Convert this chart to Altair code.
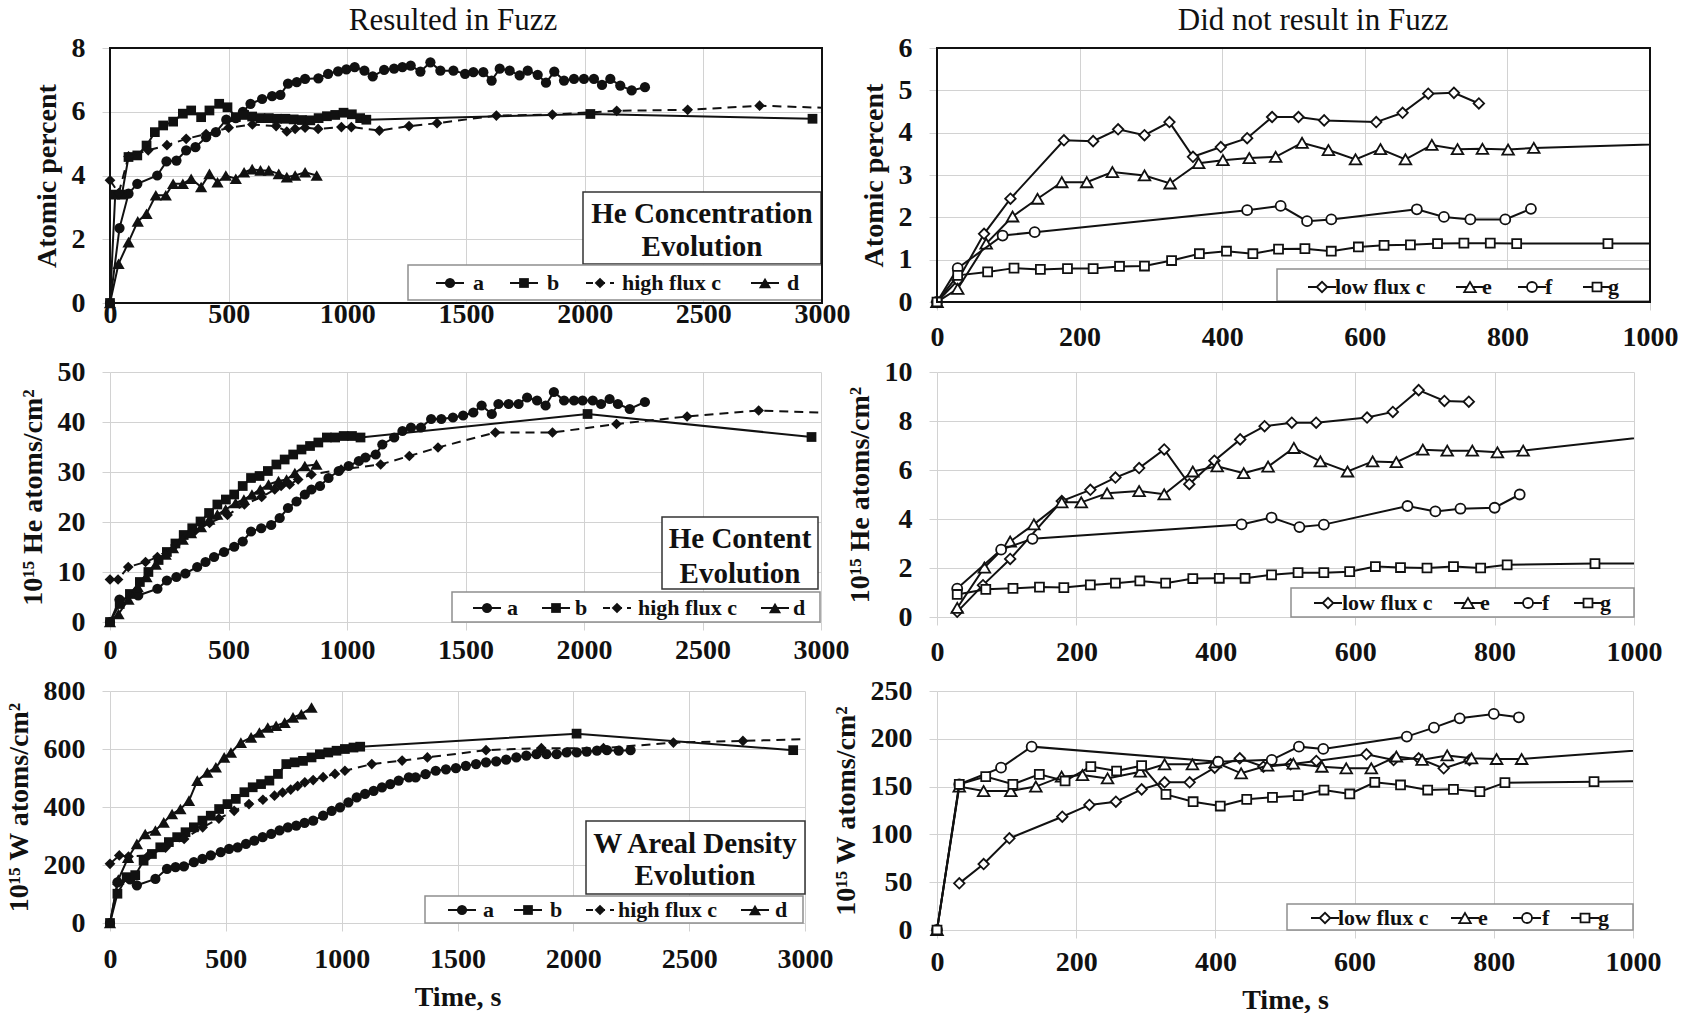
import altair as alt
import pandas as pd

SERIF = "Liberation Serif"
INK = "#111111"
GRID = "#d2d2d2"
ONE = pd.DataFrame({"k": [0]})

# ---------------- Resulted in Fuzz : He concentration (atomic percent) ----------------
conc_a_t = [0, 40, 78, 115, 199, 238, 280, 321, 360, 405, 446, 490, 530, 560, 592, 641, 683, 718, 750, 787,
            822, 878, 919, 961, 996, 1031, 1072, 1107, 1155, 1197, 1232, 1267, 1308, 1350, 1392, 1447, 1496,
            1531, 1573, 1608, 1642, 1684, 1726, 1760, 1802, 1837, 1872, 1913, 1955, 1997, 2039, 2073, 2108,
            2150, 2198, 2254]
conc_a_v = [0, 2.35, 3.43, 3.74, 4.0, 4.44, 4.47, 4.79, 4.89, 5.2, 5.36, 5.75, 5.8, 6.0, 6.25, 6.4, 6.49, 6.53,
            6.88, 6.93, 7.03, 7.05, 7.19, 7.27, 7.33, 7.4, 7.29, 7.11, 7.31, 7.35, 7.4, 7.45, 7.26, 7.55, 7.29,
            7.29, 7.19, 7.24, 7.24, 6.98, 7.35, 7.29, 7.14, 7.29, 7.16, 6.91, 7.26, 6.98, 7.03, 7.03, 7.03, 6.84,
            7.03, 6.82, 6.67, 6.77]
conc_b_t = [0, 22, 50, 78, 115, 154, 189, 224, 266, 307, 342, 384, 419, 460, 495, 530, 565, 599, 634, 669, 704,
            739, 774, 809, 844, 879, 914, 949, 984, 1019, 1054, 1080, 2024, 2960]
conc_b_v = [0, 3.4, 3.4, 4.58, 4.63, 4.94, 5.36, 5.57, 5.69, 5.94, 6.04, 5.83, 6.04, 6.25, 6.14, 5.83, 5.9, 5.85,
            5.8, 5.8, 5.78, 5.78, 5.76, 5.74, 5.73, 5.8, 5.86, 5.9, 5.97, 5.92, 5.8, 5.75, 5.93, 5.78]
conc_c_t = [0, 37, 78, 161, 240, 321, 405, 500, 600, 700, 745, 780, 822, 877, 975, 1017, 1135, 1260, 1378, 1628,
            1864, 2135, 2434, 2737, 3100]
conc_c_v = [3.85, 3.45, 4.6, 4.79, 4.95, 5.15, 5.3, 5.5, 5.6, 5.55, 5.38, 5.46, 5.5, 5.46, 5.52, 5.52, 5.41, 5.55,
            5.64, 5.88, 5.91, 6.03, 6.06, 6.19, 6.1]
conc_d_t = [0, 36, 78, 117, 154, 193, 235, 266, 307, 342, 384, 419, 453, 488, 530, 565, 599, 634, 669, 711, 745,
            780, 822, 871]
conc_d_v = [0, 1.23, 1.91, 2.56, 2.8, 3.38, 3.38, 3.74, 3.74, 3.9, 3.64, 4.05, 3.79, 4.0, 3.9, 4.1, 4.2, 4.16,
            4.16, 4.05, 3.95, 4.0, 4.1, 4.0]

# ---------------- Resulted in Fuzz : He content (1e15 atoms/cm2) ----------------
cont_a_t = [0, 40, 119, 200, 240, 280, 318, 368, 403, 439, 481, 524, 560, 595, 638, 680, 716, 751, 787, 822, 850,
            886, 922, 965, 1007, 1050, 1078, 1121, 1149, 1199, 1234, 1270, 1312, 1355, 1398, 1447, 1490, 1533,
            1568, 1611, 1639, 1682, 1724, 1760, 1802, 1838, 1873, 1916, 1958, 1994, 2037, 2072, 2108, 2143, 2193,
            2257]
cont_a_v = [0, 4.5, 5.3, 6.65, 8.3, 9.0, 9.7, 11.0, 12.0, 13.0, 14.0, 15.05, 16.1, 18.1, 18.75, 19.4, 20.8, 22.8,
            24.1, 25.5, 26.5, 27.2, 28.8, 30.2, 31.2, 32.2, 32.9, 33.5, 35.5, 36.9, 38.2, 38.9, 38.9, 40.6, 40.6,
            40.9, 41.3, 41.9, 43.3, 41.6, 43.6, 43.6, 43.6, 44.9, 44.3, 43.3, 46.0, 44.3, 44.3, 44.3, 44.3, 43.6,
            44.6, 43.6, 42.6, 44.0]
cont_b_t = [0, 41, 84, 126, 162, 205, 240, 276, 311, 347, 382, 418, 453, 489, 524, 560, 595, 631, 666, 702, 737,
            773, 808, 844, 879, 915, 950, 986, 1021, 1057, 2015, 2960]
cont_b_v = [0, 3.6, 5.6, 8.0, 10.0, 12.4, 14.0, 15.7, 17.4, 18.75, 20.1, 21.8, 23.5, 24.5, 25.5, 27.2, 28.8, 29.2,
            30.2, 31.5, 32.5, 33.5, 34.5, 35.2, 35.9, 36.9, 36.9, 37.2, 37.2, 36.9, 41.6, 37.0]
cont_c_t = [0, 34, 77, 150, 200, 276, 354, 420, 496, 567, 640, 695, 722, 758, 794, 850, 975, 1142, 1263, 1384,
            1626, 1867, 2137, 2435, 2737, 3100]
cont_c_v = [8.5, 8.5, 11.0, 12.0, 13.0, 15.4, 18.0, 19.8, 21.4, 23.5, 25.0, 26.5, 27.2, 27.5, 28.5, 29.5, 30.5,
            31.5, 33.2, 34.9, 37.9, 37.9, 39.6, 41.1, 42.3, 41.7]
cont_d_t = [0, 36, 78, 117, 154, 193, 235, 266, 307, 342, 384, 419, 453, 488, 530, 565, 599, 634, 669, 711, 745,
            780, 822, 871]
cont_d_v = [0, 1.6, 4.5, 7.0, 9.0, 11.5, 13.5, 14.8, 16.5, 17.8, 19.0, 20.5, 21.5, 22.5, 23.8, 24.5, 25.5, 26.5,
            27.5, 28.2, 28.5, 29.8, 31.2, 31.5]

# ---------------- Resulted in Fuzz : W areal density (1e15 atoms/cm2) ----------------
wad_a_t = [0, 32, 87, 116, 196, 246, 283, 319, 362, 399, 435, 478, 514, 551, 587, 623, 659, 696, 732, 768, 804,
           840, 877, 920, 957, 993, 1029, 1065, 1101, 1138, 1174, 1210, 1246, 1290, 1319, 1362, 1406, 1450, 1493,
           1536, 1580, 1623, 1667, 1710, 1754, 1797, 1841, 1884, 1928, 1971, 2015, 2058, 2102, 2145, 2196, 2247]
wad_a_v = [0, 140, 150, 130, 152, 187, 193, 195, 210, 221, 233, 244, 256, 261, 273, 284, 296, 307, 319, 330, 336,
           345, 353, 370, 387, 399, 416, 433, 445, 456, 468, 479, 491, 502, 502, 513, 525, 530, 534, 542, 548, 554,
           557, 563, 571, 577, 582, 582, 582, 588, 588, 591, 594, 596, 594, 596]
wad_b_t = [0, 32, 72, 109, 145, 181, 217, 254, 290, 326, 362, 399, 435, 471, 507, 543, 580, 616, 652, 688, 725,
           761, 797, 833, 870, 906, 942, 978, 1014, 1051, 1080, 2014, 2949]
wad_b_v = [0, 101, 158, 165, 215, 238, 261, 279, 296, 313, 330, 353, 370, 393, 410, 428, 451, 468, 479, 491, 514,
           548, 554, 559, 571, 582, 588, 594, 600, 605, 608, 653, 596]
wad_c_t = [0, 40, 80, 167, 240, 320, 400, 470, 536, 600, 660, 710, 745, 780, 810, 841, 877, 920, 971, 1014, 1130,
           1261, 1370, 1623, 1862, 2130, 2432, 2732, 3100]
wad_c_v = [204, 233, 229, 233, 260, 290, 330, 360, 387, 410, 425, 439, 450, 460, 472, 485, 493, 503, 514, 525,
           548, 560, 571, 596, 603, 603, 622, 628, 636]
wad_d_t = [0, 36, 78, 116, 152, 196, 232, 268, 304, 341, 377, 420, 457, 493, 522, 565, 609, 645, 681, 717, 754,
           790, 826, 870]
wad_d_v = [0, 150, 225, 273, 307, 319, 347, 376, 393, 422, 491, 519, 537, 571, 588, 622, 640, 657, 674, 680, 691,
           709, 720, 743]

# ---------------- Did not result in Fuzz : He concentration ----------------
nconc_c_t = [0, 29, 66, 103, 178, 219, 254, 291, 326, 359, 398, 435, 470, 507, 543, 616, 653, 689, 725, 760]
nconc_c_v = [0, 0.51, 1.61, 2.44, 3.82, 3.8, 4.08, 3.94, 4.25, 3.43, 3.66, 3.87, 4.37, 4.37, 4.29, 4.25, 4.47,
             4.92, 4.94, 4.69]
nconc_e_t = [0, 29, 69, 106, 141, 175, 210, 246, 291, 327, 367, 401, 438, 475, 512, 549, 587, 622, 657, 694, 730,
             765, 801, 837, 1200]
nconc_e_v = [0, 0.31, 1.38, 2.02, 2.44, 2.83, 2.83, 3.07, 2.99, 2.8, 3.28, 3.35, 3.4, 3.43, 3.76, 3.59, 3.37, 3.61,
             3.37, 3.71, 3.61, 3.62, 3.6, 3.64, 3.82]
nconc_f_t = [0, 29, 92, 137, 435, 482, 519, 553, 673, 711, 748, 797, 833]
nconc_f_v = [0, 0.8, 1.57, 1.65, 2.17, 2.27, 1.91, 1.95, 2.19, 2.01, 1.95, 1.95, 2.2]
nconc_g_t = [0, 29, 71, 108, 145, 183, 219, 256, 291, 329, 368, 406, 443, 479, 516, 553, 591, 627, 664, 702, 739,
             776, 813, 941, 1100]
nconc_g_v = [0, 0.63, 0.71, 0.8, 0.77, 0.79, 0.79, 0.84, 0.85, 0.98, 1.14, 1.2, 1.14, 1.25, 1.26, 1.2, 1.3, 1.34,
             1.35, 1.38, 1.39, 1.39, 1.38, 1.38, 1.38]

# ---------------- Did not result in Fuzz : He content ----------------
ncont_c_t = [29, 66, 105, 179, 220, 256, 290, 326, 362, 398, 435, 470, 509, 544, 617, 654, 691, 728, 763]
ncont_c_v = [0.21, 1.3, 2.37, 4.73, 5.19, 5.69, 6.08, 6.84, 5.42, 6.38, 7.25, 7.79, 7.93, 7.93, 8.14, 8.37, 9.26,
             8.82, 8.79]
ncont_e_t = [29, 68, 105, 139, 179, 207, 244, 290, 326, 367, 402, 440, 475, 512, 550, 589, 625, 659, 697, 732, 768,
             804, 841, 1100]
ncont_e_v = [0.37, 2.02, 3.08, 3.78, 4.68, 4.68, 5.05, 5.14, 5.01, 5.94, 6.15, 5.87, 6.14, 6.90, 6.35, 5.94, 6.35,
             6.32, 6.83, 6.79, 6.79, 6.72, 6.79, 7.62]
ncont_f_t = [29, 92, 137, 437, 480, 520, 555, 675, 715, 751, 800, 836]
ncont_f_v = [1.16, 2.75, 3.19, 3.78, 4.06, 3.67, 3.77, 4.53, 4.31, 4.42, 4.46, 5.0]
ncont_g_t = [29, 70, 109, 147, 182, 220, 256, 291, 328, 367, 405, 442, 480, 518, 555, 592, 629, 665, 703, 741, 780,
             818, 944, 1100]
ncont_g_v = [0.92, 1.13, 1.17, 1.22, 1.2, 1.31, 1.38, 1.47, 1.38, 1.57, 1.58, 1.58, 1.72, 1.81, 1.81, 1.85, 2.06,
             2.02, 2.0, 2.06, 2.0, 2.13, 2.18, 2.19]

# ---------------- Did not result in Fuzz : W areal density ----------------
nwad_c_t = [32, 67, 104, 180, 219, 257, 294, 327, 363, 399, 435, 469, 508, 545, 617, 656, 692, 728, 765]
nwad_c_v = [48.8, 69, 95.9, 118.5, 130.8, 134.2, 147.1, 154.5, 154.5, 169.8, 179.6, 170.8, 173.3, 176.8, 183.8,
            177.8, 179.6, 169.1, 177.8]
nwad_e_t = [0, 32, 67, 106, 142, 179, 209, 245, 292, 327, 367, 400, 437, 475, 512, 553, 588, 624, 660, 697, 733,
            768, 804, 840, 1100]
nwad_e_v = [0, 150, 145.4, 145.4, 150, 160.4, 162.1, 158.6, 165.6, 173.3, 173.3, 175.4, 163.9, 172, 174, 170.8,
            169.1, 169.1, 181.5, 178, 182.6, 179.6, 178.9, 178.9, 193]
nwad_f_t = [0, 32, 92, 136, 404, 481, 520, 555, 675, 714, 751, 800, 836]
nwad_f_v = [0, 152.4, 169.8, 191.8, 176, 178, 191.8, 189.4, 202.3, 211.7, 221.4, 226, 222.5]
nwad_g_t = [0, 32, 70, 109, 147, 184, 221, 258, 294, 329, 368, 407, 445, 482, 519, 556, 593, 629, 666, 705, 742,
            780, 816, 944, 1100]
nwad_g_v = [0, 152.4, 160.4, 152.4, 162.8, 155.9, 170.9, 166.3, 171.9, 141.9, 134.2, 129.7, 136.7, 138.8, 140.5,
            146.4, 142.3, 154.5, 151.7, 146.4, 147.1, 144.7, 154.1, 155.2, 156.3]

FUZZ_LABELS = ["a", "b", "high flux c", "d"]
NOFUZZ_LABELS = ["low flux c", "e", "f", "g"]

# marker shape, marker size, dashed connecting line
FUZZ_MARKS = {"a": ("circle", 105, False), "b": ("square", 95, False),
              "high flux c": ("diamond", 115, True), "d": ("triangle-up", 150, False)}
NOFUZZ_MARKS = {"low flux c": ("diamond", 110, False), "e": ("triangle-up", 135, False),
                "f": ("circle", 100, False), "g": ("square", 80, False)}


def point_style(shape, size, filled):
    if filled:
        return dict(shape=shape, size=size, filled=True, color=INK, opacity=1)
    return dict(shape=shape, size=size, filled=True, fill="white", stroke=INK, strokeWidth=1.8, opacity=1)


def encodings(xmax, xstep, ymax, ystep, ytitle, xtitle, xpad, xticks):
    xenc = alt.X("t:Q", title=xtitle,
                 scale=alt.Scale(domain=[0, xmax], nice=False, zero=True),
                 axis=alt.Axis(values=list(range(0, xmax + 1, xstep)), format="d", labelPadding=xpad,
                               ticks=xticks, labelFlush=False, labelOverlap=False, titlePadding=10))
    yenc = alt.Y("v:Q", title=ytitle,
                 scale=alt.Scale(domain=[0, ymax], nice=False, zero=True),
                 axis=alt.Axis(values=list(range(0, ymax + 1, ystep)), format="d", labelPadding=17,
                               labelFlush=False, labelOverlap=False, titlePadding=10))
    return xenc, yenc


def series_layers(series, marks, filled, xmax, xenc, yenc):
    out = []
    for label, t, v in series:
        shape, size, dashed = marks[label]
        df = pd.DataFrame({"t": t, "v": v})
        line_kw = dict(color=INK, strokeWidth=2, clip=True)
        if dashed:
            line_kw["strokeDash"] = [9, 6]
        out.append(alt.Chart(df).mark_line(**line_kw).encode(x=xenc, y=yenc))
        out.append(alt.Chart(df[df["t"] <= xmax]).mark_point(**point_style(shape, size, filled))
                   .encode(x=xenc, y=yenc))
    return out


def legend_layers(labels, marks, filled, box, yc, marker_x, text_x):
    x0, x1, y0, y1 = box
    out = [alt.Chart(ONE).mark_rect(fill="white", stroke="#8f8f8f", strokeWidth=1.5)
           .encode(x=alt.value(x0), x2=alt.value(x1), y=alt.value(y0), y2=alt.value(y1))]
    for label, mx, tx in zip(labels, marker_x, text_x):
        shape, size, dashed = marks[label]
        rule_kw = dict(color=INK, strokeWidth=2)
        if dashed:
            rule_kw["strokeDash"] = [7, 5]
        out.append(alt.Chart(ONE).mark_rule(**rule_kw)
                   .encode(x=alt.value(mx - 14), x2=alt.value(mx + 14), y=alt.value(yc)))
        out.append(alt.Chart(ONE).mark_point(**point_style(shape, size, filled))
                   .encode(x=alt.value(mx), y=alt.value(yc)))
        out.append(alt.Chart(ONE).mark_text(text=label, align="left", baseline="middle", font=SERIF,
                                            fontWeight="bold", fontSize=22, color=INK)
                   .encode(x=alt.value(tx), y=alt.value(yc)))
    return out


def caption_layers(lines, box, cx, line_y):
    x0, x1, y0, y1 = box
    out = [alt.Chart(ONE).mark_rect(fill="white", stroke="#333333", strokeWidth=1.5)
           .encode(x=alt.value(x0), x2=alt.value(x1), y=alt.value(y0), y2=alt.value(y1))]
    for text, ly in zip(lines, line_y):
        out.append(alt.Chart(ONE).mark_text(text=text, align="center", baseline="middle", font=SERIF,
                                            fontWeight="bold", fontSize=29, color=INK)
                   .encode(x=alt.value(cx), y=alt.value(ly)))
    return out


def frame_layer(w, h):
    return alt.Chart(ONE).mark_rect(fillOpacity=0, stroke=INK, strokeWidth=2).encode(
        x=alt.value(0), x2=alt.value(w), y=alt.value(0), y2=alt.value(h))


def header_layer(text, cx):
    return alt.Chart(ONE).mark_text(text=text, align="center", baseline="middle", font=SERIF,
                                    fontSize=31, color=INK).encode(x=alt.value(cx), y=alt.value(-27))


SUP_HE = "10\u00b9\u2075 He atoms/cm\u00b2"
SUP_W = "10\u00b9\u2075 W atoms/cm\u00b2"

# ---- left column ----
W1, H1 = 712, 255
x1e, y1e = encodings(3000, 500, 8, 2, "Atomic percent", None, -3, False)
p1 = alt.layer(
    *series_layers([("a", conc_a_t, conc_a_v), ("b", conc_b_t, conc_b_v),
                    ("high flux c", conc_c_t, conc_c_v), ("d", conc_d_t, conc_d_v)],
                   FUZZ_MARKS, True, 3000, x1e, y1e),
    *caption_layers(["He Concentration", "Evolution"], (473, 711, 144, 216), 592, [166, 199]),
    *legend_layers(FUZZ_LABELS, FUZZ_MARKS, True, (298, 712, 217, 252), 235,
                   [340, 414, 490, 655], [363, 437, 512, 677]),
    frame_layer(W1, H1),
    header_layer("Resulted in Fuzz", 343),
).properties(width=W1, height=H1)

W2, H2 = 711, 250
x2e, y2e = encodings(3000, 500, 50, 10, SUP_HE, None, 6, True)
p2 = alt.layer(
    *series_layers([("a", cont_a_t, cont_a_v), ("b", cont_b_t, cont_b_v),
                    ("high flux c", cont_c_t, cont_c_v), ("d", cont_d_t, cont_d_v)],
                   FUZZ_MARKS, True, 3000, x2e, y2e),
    *caption_layers(["He Content", "Evolution"], (552, 708, 145, 217), 630, [167, 202]),
    *legend_layers(FUZZ_LABELS, FUZZ_MARKS, True, (342, 710, 220, 250), 236,
                   [377, 446, 507, 665], [397, 465, 528, 683]),
).properties(width=W2, height=H2)

W3, H3 = 695, 232
x3e, y3e = encodings(3000, 500, 800, 200, SUP_W, "Time, s", 14, True)
p3 = alt.layer(
    *series_layers([("a", wad_a_t, wad_a_v), ("b", wad_b_t, wad_b_v),
                    ("high flux c", wad_c_t, wad_c_v), ("d", wad_d_t, wad_d_v)],
                   FUZZ_MARKS, True, 3000, x3e, y3e),
    *caption_layers(["W Areal Density", "Evolution"], (476, 695, 130, 203), 585, [153, 185]),
    *legend_layers(FUZZ_LABELS, FUZZ_MARKS, True, (315, 693, 205, 232), 219,
                   [352, 418, 490, 645], [373, 440, 508, 665]),
).properties(width=W3, height=H3)

# ---- right column ----
W4, H4 = 713, 254
x4e, y4e = encodings(1000, 200, 6, 1, "Atomic percent", None, 13, True)
p4 = alt.layer(
    *series_layers([("low flux c", nconc_c_t, nconc_c_v), ("e", nconc_e_t, nconc_e_v),
                    ("f", nconc_f_t, nconc_f_v), ("g", nconc_g_t, nconc_g_v)],
                   NOFUZZ_MARKS, False, 1000, x4e, y4e),
    *legend_layers(NOFUZZ_LABELS, NOFUZZ_MARKS, False, (340, 713, 221, 253), 239,
                   [385, 533, 595, 660], [398, 545, 608, 671]),
    frame_layer(W4, H4),
    header_layer("Did not result in Fuzz", 376),
).properties(width=W4, height=H4)

W5, H5 = 697, 245
x5e, y5e = encodings(1000, 200, 10, 2, SUP_HE, None, 13, True)
p5 = alt.layer(
    *series_layers([("low flux c", ncont_c_t, ncont_c_v), ("e", ncont_e_t, ncont_e_v),
                    ("f", ncont_f_t, ncont_f_v), ("g", ncont_g_t, ncont_g_v)],
                   NOFUZZ_MARKS, False, 1000, x5e, y5e),
    *legend_layers(NOFUZZ_LABELS, NOFUZZ_MARKS, False, (354, 697, 216, 245), 231,
                   [391, 531, 591, 651], [405, 543, 605, 663]),
).properties(width=W5, height=H5)

W6, H6 = 696, 239
x6e, y6e = encodings(1000, 200, 250, 50, SUP_W, "Time, s", 10, True)
p6 = alt.layer(
    *series_layers([("low flux c", nwad_c_t, nwad_c_v), ("e", nwad_e_t, nwad_e_v),
                    ("f", nwad_f_t, nwad_f_v), ("g", nwad_g_t, nwad_g_v)],
                   NOFUZZ_MARKS, False, 1000, x6e, y6e),
    *legend_layers(NOFUZZ_LABELS, NOFUZZ_MARKS, False, (350, 696, 213, 239), 227,
                   [388, 528, 590, 648], [401, 541, 605, 661]),
).properties(width=W6, height=H6)

chart = alt.concat(
    p1, p4, p2, p5, p3, p6,
    columns=2, spacing={"row": 69, "column": 115}, bounds="flush", align="each",
).resolve_scale(
    x="independent", y="independent"
).properties(
    padding={"left": 5, "top": 5, "right": 5, "bottom": 5}, background="white"
).configure_view(
    strokeWidth=0
).configure_axis(
    labelFont=SERIF, labelFontWeight="bold", labelFontSize=28, labelColor=INK,
    titleFont=SERIF, titleFontWeight="bold", titleFontSize=28, titleColor=INK,
    gridColor=GRID, gridWidth=1, tickColor=GRID, tickSize=8, domain=False,
)

chart.save("out.html", embed_options={"renderer": "svg", "actions": False})
